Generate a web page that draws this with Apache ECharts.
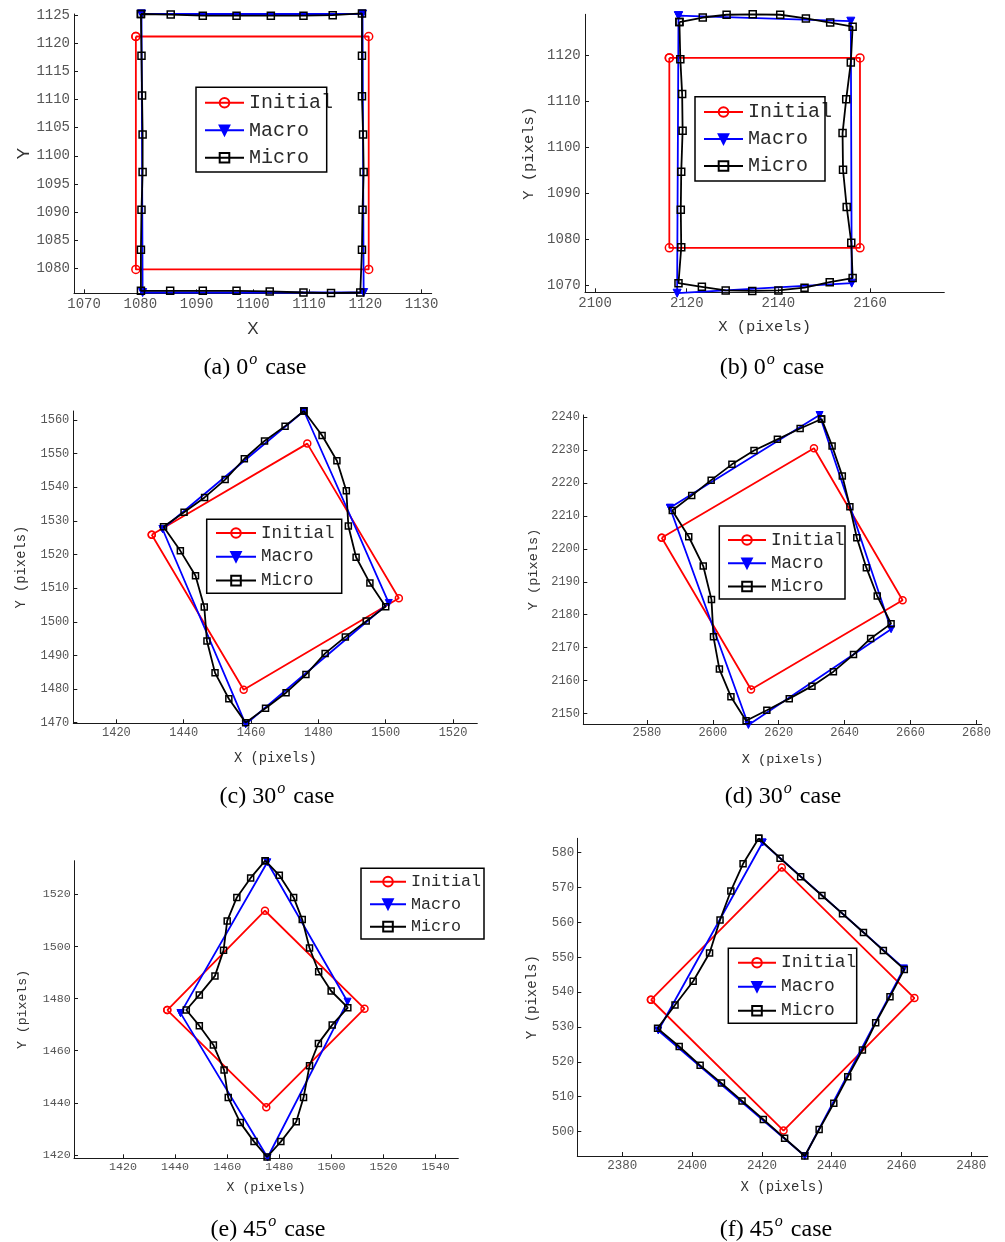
<!DOCTYPE html>
<html><head><meta charset="utf-8">
<script src="https://cdn.jsdelivr.net/npm/echarts@6/dist/echarts.min.js"></script>
<style>html,body{margin:0;padding:0;background:#fff}#c{width:1005px;height:1242px}</style>
</head><body><div id="c"></div>
<script>
// ---------- DATA ----------
const seriesNames = ['Initial', 'Macro', 'Micro'];

// (a) 0 deg case
const aXTicks = [1070, 1080, 1090, 1100, 1110, 1120, 1130];
const aYTicks = [1080, 1085, 1090, 1095, 1100, 1105, 1110, 1115, 1120, 1125];
const aInitial = [[1079.2,1121.2],[1120.6,1121.2],[1120.6,1079.8],[1079.2,1079.8]];
const aMacro = [[1080.2,1125.2],[1119.5,1125.2],[1119.7,1075.7],[1080.4,1075.7]];
const aMicro = [[1080.1,1125.2],[1085.4,1125.1],[1091.1,1124.9],[1097.1,1124.9],[1103.2,1124.9],[1109.0,1124.9],[1114.2,1125.0],[1119.4,1125.3],
  [1119.4,1117.8],[1119.4,1110.6],[1119.6,1103.8],[1119.7,1097.1],[1119.5,1090.4],[1119.4,1083.3],[1119.1,1075.7],
  [1113.9,1075.6],[1109.0,1075.7],[1103.0,1075.9],[1097.1,1076.0],[1091.1,1076.0],[1085.3,1076.0],[1080.1,1076.0],
  [1080.1,1083.3],[1080.2,1090.4],[1080.4,1097.1],[1080.4,1103.8],[1080.3,1110.7],[1080.2,1117.8]];

// (b) 0 deg case
const bXTicks = [2100, 2120, 2140, 2160];
const bYTicks = [1070, 1080, 1090, 1100, 1110, 1120];
const bInitial = [[2116.2,1119.5],[2157.8,1119.5],[2157.8,1078.1],[2116.2,1078.1]];
const bMacro = [[2118.2,1128.7],[2155.8,1127.5],[2156.0,1070.4],[2117.9,1068.2]];
const bMicro = [[2118.4,1127.3],[2123.5,1128.3],[2128.7,1128.9],[2134.4,1129.0],[2140.4,1128.9],[2146.0,1128.1],[2151.3,1127.2],[2156.2,1126.3],
  [2155.8,1118.5],[2154.8,1110.5],[2154.0,1103.1],[2154.1,1095.1],[2154.9,1087.0],[2155.9,1079.2],[2156.2,1071.5],
  [2151.2,1070.6],[2145.7,1069.4],[2140.0,1068.8],[2134.3,1068.7],[2128.5,1068.8],[2123.3,1069.6],[2118.2,1070.4],
  [2118.8,1078.2],[2118.7,1086.4],[2118.8,1094.7],[2119.1,1103.6],[2119.0,1111.6],[2118.6,1119.2]];

// (c) 30 deg case
const cXTicks = [1420, 1440, 1460, 1480, 1500, 1520];
const cYTicks = [1470, 1480, 1490, 1500, 1510, 1520, 1530, 1540, 1550, 1560];
const cInitial = [[1430.5,1525.9],[1476.7,1553.0],[1503.9,1507.0],[1457.8,1479.8]];
const cMacro = [[1433.7,1527.6],[1475.7,1562.7],[1500.9,1505.6],[1458.4,1469.5]];
const cMicro = [[1475.7,1562.7],[1481.1,1555.4],[1485.5,1547.9],[1488.3,1539.0],[1488.9,1528.5],[1491.2,1519.2],[1495.3,1511.5],[1500.0,1504.5],
  [1494.2,1500.2],[1488.0,1495.5],[1482.0,1490.6],[1476.3,1484.3],[1470.4,1478.9],[1464.3,1474.3],[1458.4,1470.0],
  [1453.4,1477.1],[1449.3,1484.8],[1446.9,1494.3],[1446.1,1504.4],[1443.5,1513.7],[1439.0,1521.1],[1434.0,1528.3],
  [1440.1,1532.6],[1446.2,1537.0],[1452.3,1542.3],[1458.0,1548.5],[1464.0,1553.8],[1470.1,1558.2]];

// (d) 30 deg case
const dXTicks = [2580, 2600, 2620, 2640, 2660, 2680];
const dYTicks = [2150, 2160, 2170, 2180, 2190, 2200, 2210, 2220, 2230, 2240];
const dInitial = [[2584.5,2203.4],[2630.7,2230.6],[2657.6,2184.4],[2611.6,2157.3]];
const dMacro = [[2587.0,2212.5],[2632.4,2240.7],[2654.1,2175.6],[2610.8,2146.5]];
const dMicro = [[2633.0,2239.5],[2636.2,2231.3],[2639.3,2222.2],[2641.6,2212.8],[2643.7,2203.4],[2646.6,2194.3],[2649.9,2185.7],[2654.1,2177.3],
  [2647.9,2172.8],[2642.7,2167.9],[2636.6,2162.7],[2630.1,2158.3],[2623.2,2154.5],[2616.4,2151.0],[2610.1,2147.8],
  [2605.5,2155.1],[2602.0,2163.5],[2600.2,2173.3],[2599.6,2184.6],[2597.1,2194.8],[2592.7,2203.7],[2587.7,2211.7],
  [2593.6,2216.2],[2599.5,2220.9],[2605.8,2225.7],[2612.5,2229.9],[2619.6,2233.3],[2626.5,2236.6]];

// (e) 45 deg case
const eXTicks = [1420, 1440, 1460, 1480, 1500, 1520, 1540];
const eYTicks = [1420, 1440, 1460, 1480, 1500, 1520];
const eInitial = [[1437.0,1475.6],[1474.5,1513.7],[1512.7,1476.1],[1475.0,1438.3]];
const eMacro = [[1442.1,1474.4],[1475.4,1532.3],[1506.2,1478.8],[1475.5,1419.0]];
const eMicro = [[1474.6,1532.9],[1480.0,1527.3],[1485.5,1518.8],[1488.8,1510.3],[1491.6,1499.4],[1495.1,1490.3],[1499.9,1482.9],[1506.3,1476.5],
  [1500.3,1469.9],[1495.0,1462.8],[1491.6,1454.2],[1489.3,1442.0],[1486.5,1432.7],[1480.6,1425.1],[1475.3,1419.2],
  [1470.3,1425.1],[1465.0,1432.4],[1460.4,1442.0],[1458.8,1452.6],[1454.7,1462.2],[1449.3,1469.6],[1444.3,1475.6],
  [1449.3,1481.4],[1455.3,1488.7],[1458.6,1498.5],[1460.0,1509.8],[1463.7,1518.8],[1469.0,1526.3]];

// (f) 45 deg case
const fXTicks = [2380, 2400, 2420, 2440, 2460, 2480];
const fYTicks = [500, 510, 520, 530, 540, 550, 560, 570, 580];
const fInitial = [[2388.2,537.8],[2425.7,575.7],[2463.7,538.3],[2426.2,500.3]];
const fMacro = [[2420.2,582.9],[2460.7,546.8],[2432.3,493.0],[2390.3,529.0]];
const fMicro = [[2419.1,584.1],[2425.2,578.4],[2431.1,573.1],[2437.2,567.7],[2443.1,562.5],[2449.1,557.1],[2454.8,551.9],[2460.8,546.5],
  [2456.7,538.7],[2452.6,531.2],[2448.8,523.4],[2444.6,515.7],[2440.6,508.1],[2436.4,500.6],[2432.3,493.0],
  [2426.5,498.1],[2420.4,503.5],[2414.3,508.8],[2408.4,513.9],[2402.3,519.0],[2396.3,524.4],[2390.1,529.6],
  [2395.1,536.3],[2400.3,543.1],[2405.0,551.2],[2408.0,560.7],[2411.1,569.0],[2414.6,576.8]];

const captionLabels = ['(a)', '(b)', '(c)', '(d)', '(e)', '(f)'];
const captionAngles = ['0', '0', '30', '30', '45', '45'];

// ---------- LAYOUT ----------
const panels = [
  {grid:{left:74, top:14, width:357.7, height:279.3}, xr:[1068.2,1131.8], yr:[1075.56,1125.2], xt:aXTicks, yt:aYTicks,
   data:[aInitial,aMacro,aMicro], tick:14, lm:[3.7,4], xName:'X', yName:'Y', nameFont:'Liberation Sans', nameSize:17, gaps:[28,41],
   leg:{left:204, top:89, iw:39, lh:27.5, fs:20, box:[196,87.3,130.7,84.7]}, cap:[255,366], ms:[8,8,7]},
  {grid:{left:585, top:14.3, width:359.3, height:278}, xr:[2097.8,2176.2], yr:[1068.4,1129.0], xt:bXTicks, yt:bYTicks,
   data:[bInitial,bMacro,bMicro], tick:14, lm:[4,4.3], xName:'X (pixels)', yName:'Y (pixels)', nameFont:'Liberation Mono', nameSize:15.5, gaps:[27,48],
   leg:{left:703, top:98.5, iw:39, lh:27, fs:20, box:[695,96.7,130,84.3]}, cap:[772,366], ms:[8,8,7]},
  {grid:{left:73.3, top:411, width:404, height:312.3}, xr:[1407.2,1527.2], yr:[1469.8,1562.7], xt:cXTicks, yt:cYTicks,
   data:[cInitial,cMacro,cMicro], tick:12, lm:[3.4,4], xName:'X (pixels)', yName:'Y (pixels)', nameFont:'Liberation Mono', nameSize:13.8, gaps:[28,45],
   leg:{left:215, top:521.1, iw:40, lh:23.8, fs:17.5, box:[206.7,519.3,135,74]}, cap:[277,795], ms:[7,7,6]},
  {grid:{left:583.3, top:415, width:398.4, height:309}, xr:[2560.7,2681.6], yr:[2146.8,2240.7], xt:dXTicks, yt:dYTicks,
   data:[dInitial,dMacro,dMicro], tick:12, lm:[3.3,3.3], xName:'X (pixels)', yName:'Y (pixels)', nameFont:'Liberation Mono', nameSize:13.6, gaps:[28,43],
   leg:{left:727, top:528.3, iw:38, lh:23.3, fs:17.5, box:[719.3,526,125.7,73]}, cap:[783,795], ms:[7,7,6]},
  {grid:{left:74, top:860.7, width:384.3, height:297.6}, xr:[1401.2,1548.7], yr:[1418.7,1532.9], xt:eXTicks, yt:eYTicks,
   data:[eInitial,eMacro,eMicro], tick:11.7, lm:[2.5,3.3], xName:'X (pixels)', yName:'Y (pixels)', nameFont:'Liberation Mono', nameSize:13.2, gaps:[23,45],
   leg:{left:369, top:870.4, iw:36, lh:22.5, fs:16.7, box:[361,868.3,123,70.7]}, cap:[268,1228], ms:[7,7,6]},
  {grid:{left:577.3, top:838.3, width:410.4, height:317.7}, xr:[2367.1,2484.7], yr:[493.0,584.1], xt:fXTicks, yt:fYTicks,
   data:[fInitial,fMacro,fMicro], tick:12.5, lm:[3.4,3], xName:'X (pixels)', yName:'Y (pixels)', nameFont:'Liberation Mono', nameSize:14, gaps:[24,38],
   leg:{left:737, top:950.7, iw:38, lh:24, fs:17.9, box:[728.3,948.3,128.4,75]}, cap:[776,1228], ms:[7,7,6]}
];

const colors = ['#ff0000', '#0000ff', '#000000'];
const symbols = ['circle', 'triangle', 'rect'];
const closeLoop = pts => pts.concat([pts[0]]);

const option = {
  animation: false,
  backgroundColor: '#fff',
  grid: [], xAxis: [], yAxis: [], series: [], legend: [], graphic: []
};

panels.forEach((p, i) => {
  option.grid.push(Object.assign({containLabel: false}, p.grid));
  const axisCommon = (ticks, range, size, margin) => ({
    gridIndex: i, type: 'value', min: range[0], max: range[1],
    axisLine: {show: true, onZero: false, lineStyle: {color: '#1a1a1a', width: 1}},
    axisTick: {show: true, inside: true, length: 4, customValues: ticks, lineStyle: {color: '#1a1a1a', width: 1}},
    axisLabel: {show: true, customValues: ticks, formatter: v => String(v),
      fontFamily: 'Liberation Mono', fontSize: size, color: '#555', margin: margin},
    splitLine: {show: false}
  });
  option.xAxis.push(Object.assign(axisCommon(p.xt, p.xr, p.tick, p.lm[0]), {
    name: p.xName, nameLocation: 'middle', nameGap: p.gaps[0],
    nameTextStyle: {fontFamily: p.nameFont, fontSize: p.nameSize, color: '#333', verticalAlign: 'top'}
  }));
  option.yAxis.push(Object.assign(axisCommon(p.yt, p.yr, p.tick, p.lm[1]), {
    name: p.yName, nameLocation: 'middle', nameGap: p.gaps[1],
    nameTextStyle: {fontFamily: p.nameFont, fontSize: p.nameSize, color: '#333'}
  }));
  seriesNames.forEach((nm, k) => {
    const s = {
      type: 'line', name: nm, xAxisIndex: i, yAxisIndex: i,
      data: closeLoop(p.data[k]), clip: false, silent: true,
      symbol: symbols[k], symbolSize: p.ms[k], showAllSymbol: true,
      lineStyle: {color: colors[k], width: 1.8},
      itemStyle: k === 1 ? {color: colors[k], borderColor: colors[k], borderWidth: 1}
                         : {color: 'rgba(255,255,255,0)', borderColor: colors[k], borderWidth: 1.5},
      z: 2 + k
    };
    if (k === 1) s.symbolRotate = 180;
    option.series.push(s);
  });
  const L = p.leg;
  option.legend.push({
    left: L.left, top: L.top, orient: 'vertical', padding: 0, itemGap: 0,
    itemWidth: L.iw, itemHeight: 12, selectedMode: false,
    data: seriesNames,
    textStyle: {fontFamily: 'Liberation Mono', fontSize: L.fs, color: '#2a2a2a', lineHeight: L.lh}
  });
  option.graphic.push({
    type: 'rect', shape: {x: L.box[0], y: L.box[1], width: L.box[2], height: L.box[3]},
    style: {fill: 'none', stroke: '#000', lineWidth: 1.5}, z: 100, silent: true
  });
  option.graphic.push({
    type: 'text', x: p.cap[0], y: p.cap[1], silent: true,
    style: {
      text: '{n|' + captionLabels[i] + ' ' + captionAngles[i] + '}{s|o}{n| case}',
      textAlign: 'center', textVerticalAlign: 'middle',
      rich: {
        n: {fontFamily: 'Liberation Serif', fontSize: 24, color: '#000', verticalAlign: 'bottom', lineHeight: 28},
        s: {fontFamily: 'Liberation Serif', fontStyle: 'italic', fontSize: 16, color: '#000', verticalAlign: 'top', lineHeight: 28, padding: [0, 2, 0, 1]}
      }
    }
  });
});

const chart = echarts.init(document.getElementById('c'), null, {renderer: 'canvas'});
chart.setOption(option);
</script></body></html>
